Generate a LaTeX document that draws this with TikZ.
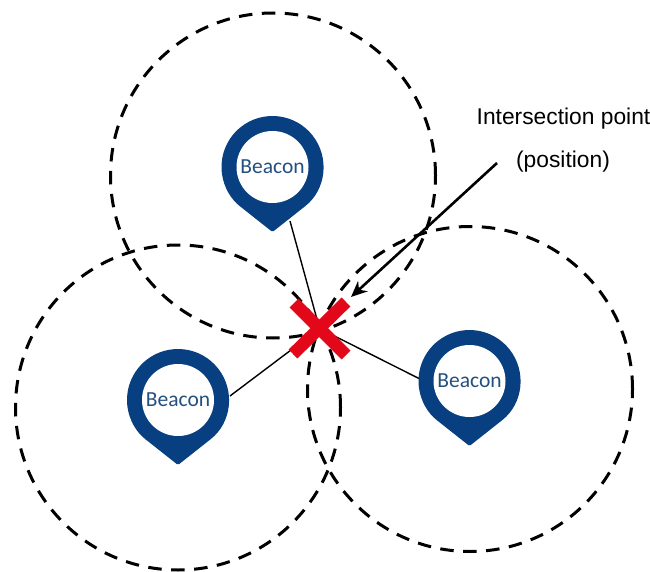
\documentclass[tikz,border=0pt]{standalone}
\usepackage{fontspec}
\setmainfont{Liberation Sans}
\newfontfamily\beaconfont{Carlito}
\usetikzlibrary{arrows.meta}
\definecolor{pinblue}{HTML}{073F80}
\definecolor{pintext}{HTML}{24507F}
\definecolor{crossred}{HTML}{E2081A}
\tikzset{
  rangering/.style={draw=black,line width=3pt,dash pattern=on 13.5pt off 9.5pt,fill=none,circle,minimum size=325pt,inner sep=0pt},
  spoke/.style={draw=black,line width=1.4pt},
  crossarm/.style={draw=crossred,line width=12.5pt},
  callout/.style={draw=black,line width=2.6pt,-{Stealth[length=16pt,width=14pt]}},
  pinbody/.style={fill=pinblue,draw=none},
  pinhole/.style={fill=white,draw=none,circle,minimum size=72pt,inner sep=0pt,text=pintext,font=\beaconfont\fontsize{21.5pt}{24pt}\selectfont},
  caption/.style={font=\fontsize{22.8pt}{26pt}\selectfont,text=black,inner sep=0pt}
}
\newcommand{\beaconpin}[3]{%
  \fill[pinbody,rounded corners=1.5pt] (#1,#2)
     ++(-51.7:51pt) arc[start angle=-51.7,end angle=231.7,radius=51pt]
     -- (#1,#2+65) -- cycle;
  \node[pinhole] (#3) at (#1,#2) {Beacon};
  \coordinate (#3tip) at (#1,#2+65);
}
\begin{document}
\begin{tikzpicture}[x=1pt,y=-1pt]
\useasboundingbox (0,0) rectangle (650,572);
\fill[white] (0,0) rectangle (650,572);
\node[rangering] (c1) at (273,175.5) {};
\node[rangering] (c2) at (178,407.5) {};
\node[rangering] (c3) at (470,389) {};
\coordinate (x) at (319.5,328.5);
\coordinate (s1) at (290,221);
\coordinate (s2) at (230,396);
\coordinate (s3) at (420,379);
\draw[spoke] (s1) -- (x);
\draw[spoke] (s2) -- (x);
\draw[spoke] (s3) -- (x);
\beaconpin{272.5}{167}{b1}
\beaconpin{178}{400}{b2}
\beaconpin{469.5}{381}{b3}
\coordinate (xa) at (294,303);
\coordinate (xb) at (346,355);
\coordinate (xc) at (346,302);
\coordinate (xd) at (293,354);
\draw[crossarm] (xa) -- (xb);
\draw[crossarm] (xc) -- (xd);
\node[caption] (t1) at (563.5,118.5) {Intersection point};
\node[caption] (t2) at (563,161.5) {(position)};
\coordinate (as) at (497,163);
\coordinate (ae) at (351,297);
\draw[callout] (as) -- (ae);
\end{tikzpicture}
\end{document}
